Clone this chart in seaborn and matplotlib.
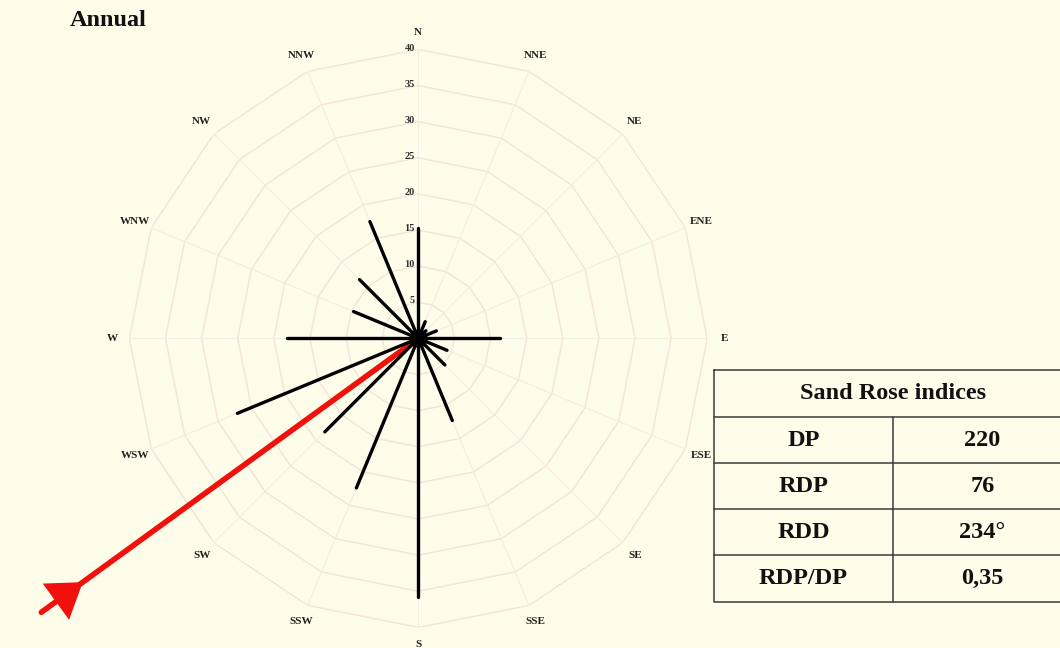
import numpy as np
import pandas as pd
import matplotlib
matplotlib.use("Agg")
import matplotlib.pyplot as plt
import seaborn as sns

# Sixteen compass sectors and the drift potential per sector
directions = ["N", "NNE", "NE", "ENE", "E", "ESE", "SE", "SSE",
              "S", "SSW", "SW", "WSW", "W", "WNW", "NW", "NNW"]
drift = [15.3, 2.5, 1.5, 2.7, 11.3, 4.3, 5.2, 12.3,
         35.8, 22.4, 18.3, 27.1, 18.2, 9.7, 11.5, 17.5]

radial_ticks = [0, 5, 10, 15, 20, 25, 30, 35, 40]

# Sand rose indices
index_names = ["DP", "RDP", "RDD", "RDP/DP"]
index_values = ["220", "76", "234°", "0,35"]
rdd_deg = 234
arrow_length = 64.5

BG = "#FEFDEA"
GRID = "#F3E3D9"
RED = "#F0100C"

sns.set_theme(style="white")
plt.rcParams["font.family"] = ["Liberation Serif", "DejaVu Serif"]
plt.rcParams["font.weight"] = "bold"

fig = plt.figure(figsize=(10.6, 6.48), dpi=100, facecolor=BG)

W, H = 1060, 648
cx, cy, rad = 418.3, 338.4, 289.0
ax = fig.add_axes([(cx - rad) / W, (H - cy - rad) / H, 2 * rad / W, 2 * rad / H],
                  projection="polar")
ax.set_facecolor("none")
ax.set_theta_zero_location("N")
ax.set_theta_direction(-1)
ax.set_ylim(0, 40)
ax.grid(False)
ax.set_xticks([])
ax.set_yticks([])
ax.spines["polar"].set_visible(False)

theta = np.deg2rad(np.arange(len(directions)) * 22.5)

# polygonal grid and spokes
closed = np.append(theta, theta[0])
for r in radial_ticks[1:]:
    ax.plot(closed, [r] * len(closed), color=GRID, lw=1.0, zorder=1)
for t in theta:
    ax.plot([t, t], [0, 40], color="#F6EBE2", lw=0.8, zorder=1)

# radial tick labels along the north spoke
for r in radial_ticks:
    ax.annotate(str(r), xy=(0, r), xytext=(-2.5, 1), textcoords="offset points",
                ha="right", va="center", fontsize=7.5, color="#333333",
                fontweight="bold", zorder=2)

# direction labels
for t, name in zip(theta, directions):
    ax.text(t, 42.4, name, ha="center", va="center", fontsize=8,
            fontweight="bold", color="#222222", clip_on=False)

# resultant drift arrow
rdd = np.deg2rad(rdd_deg)
ax.plot([rdd, rdd], [0, arrow_length], color=RED, lw=4, solid_capstyle="round",
        clip_on=False, zorder=3)
tip_r, base_r, half_w = 57.4, 62.0, 3.1
da = np.arctan(half_w / base_r)
rr = np.hypot(base_r, half_w)
ax.fill([rdd, rdd - da, rdd + da], [tip_r, rr, rr], color=RED, lw=0,
        clip_on=False, zorder=3)

# drift potential spokes
seg = pd.DataFrame({
    "dir": np.repeat(directions, 2),
    "theta": np.repeat(theta, 2),
    "dp": np.ravel(np.column_stack([np.zeros(len(drift)), drift])),
})
sns.lineplot(data=seg, x="theta", y="dp", units="dir", estimator=None, sort=False,
             color="black", lw=2.4, legend=False, ax=ax, zorder=4)
ax.set_xlabel("")
ax.set_ylabel("")
ax.set_ylim(0, 40)
ax.plot([0], [0], marker="o", ms=12, color="black", zorder=5)

fig.text(70 / W, 1 - 21 / H, "Annual", ha="left", va="center",
         fontsize=17.5, fontweight="bold", color="#111111")

# indices table
x0, x1, xm = 714, 1072, 893
y_top, y_bot = 370, 602
rows = [417, 463, 509, 555]
tab = fig.add_axes([0, 0, 1, 1], facecolor="none")
tab.set_xlim(0, W)
tab.set_ylim(H, 0)
tab.axis("off")
lc = "#3a3a3a"
tab.plot([x0, x1, x1, x0, x0], [y_top, y_top, y_bot, y_bot, y_top], color=lc, lw=1.1,
         clip_on=False)
for y in rows:
    tab.plot([x0, x1], [y, y], color=lc, lw=1.1, clip_on=False)
tab.plot([xm, xm], [rows[0], y_bot], color=lc, lw=1.1)
tab.text((x0 + x1) / 2, (y_top + rows[0]) / 2, "Sand Rose indices", ha="center",
         va="center", fontsize=17.5, fontweight="bold", color="#111111")
edges = rows + [y_bot]
for i, (nm, val) in enumerate(zip(index_names, index_values)):
    yc = (edges[i] + edges[i + 1]) / 2
    tab.text((x0 + xm) / 2, yc, nm, ha="center", va="center", fontsize=17.5,
             fontweight="bold", color="#111111")
    tab.text((xm + x1) / 2, yc, val, ha="center", va="center", fontsize=17.5,
             fontweight="bold", color="#111111")

fig.savefig("out.png", dpi=100, facecolor=BG)
